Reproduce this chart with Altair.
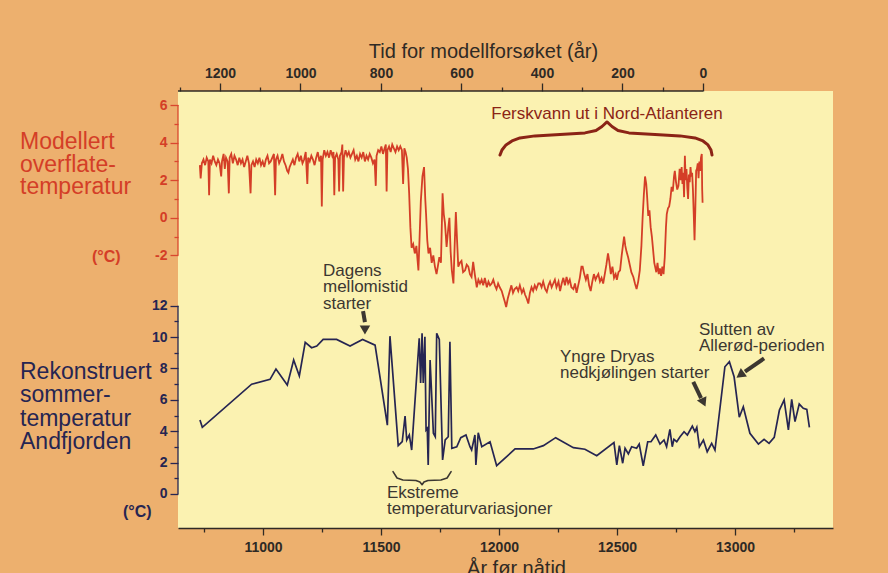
import altair as alt
import pandas as pd

# ---------------- data ----------------
# Modelled sea-surface temperature (top axis: model years, counted down to 0)
model_years = [
    1250, 1248, 1245, 1241, 1237, 1233, 1229, 1227, 1225, 1221,
    1217, 1213, 1209, 1205, 1201, 1197, 1195, 1191, 1188, 1185,
    1181, 1178, 1176, 1172, 1168, 1164, 1160, 1156, 1152, 1148,
    1144, 1140, 1136, 1132, 1128, 1124, 1122, 1118, 1114, 1110,
    1106, 1102, 1098, 1094, 1090, 1086, 1082, 1078, 1074, 1070,
    1066, 1063, 1061, 1057, 1053, 1049, 1045, 1041, 1037, 1033,
    1030, 1027, 1023, 1019, 1015, 1011, 1007, 1003, 999, 995,
    991, 987, 983, 981, 977, 973, 969, 965, 961, 957,
    953, 949, 947, 945, 941, 937, 933, 929, 925, 921,
    918, 916, 914, 910, 906, 904, 902, 898, 896, 894,
    892, 888, 884, 880, 876, 872, 868, 864, 860, 856,
    852, 848, 844, 840, 836, 832, 828, 824, 820, 816,
    813, 811, 807, 803, 799, 795, 791, 788, 786, 784,
    780, 776, 772, 768, 764, 760, 756, 752, 748, 745,
    742, 739, 736, 733, 730, 727, 724, 720, 716, 712,
    709, 707, 704, 701, 697, 693, 690, 688, 685, 682,
    678, 674, 670, 666, 662, 658, 655, 651, 647, 644,
    641, 637, 633, 630, 627, 624, 620, 617, 614, 611,
    608, 604, 600, 596, 591, 587, 583, 579, 575, 571,
    567, 562, 558, 554, 550, 546, 542, 537, 533, 529,
    525, 521, 517, 513, 509, 505, 500, 496, 492, 489,
    485, 480, 476, 472, 468, 463, 459, 455, 450, 446,
    442, 438, 434, 430, 426, 422, 418, 414, 409, 405,
    401, 397, 392, 388, 384, 380, 376, 372, 368, 364,
    359, 355, 351, 347, 343, 339, 335, 331, 327, 322,
    318, 314, 310, 306, 302, 299, 295, 291, 287, 283,
    279, 275, 271, 267, 264, 260, 256, 252, 248, 244,
    240, 236, 233, 229, 225, 221, 217, 214, 210, 206,
    202, 199, 196, 193, 190, 186, 182, 178, 173, 169,
    165, 161, 157, 153, 150, 147, 144, 141, 139, 136,
    133, 130, 127, 124, 121, 119, 116, 113, 110, 107,
    104, 101, 98, 95, 92, 90, 87, 84, 81, 78,
    75, 72, 70, 67, 64, 61, 58, 55, 53, 51,
    49, 47, 45, 43, 41, 39, 37, 35, 33, 31,
    29, 27, 25, 23, 21, 19, 17, 15, 13, 11,
    9, 7, 5, 3, 2, 1,
]
model_temp = [
    2.8, 2.1, 2.9, 3.1, 2.8, 3.2, 3.0, 1.2, 3.1, 2.9,
    3.3, 3.0, 2.8, 3.1, 2.9, 2.2, 3.0, 3.4, 2.6, 3.2,
    3.0, 1.3, 3.2, 3.4, 2.9, 3.3, 3.1, 2.8, 3.2, 2.9,
    3.1, 2.7, 3.0, 3.3, 2.9, 1.3, 2.8, 3.0, 2.7, 3.1,
    2.9, 3.2, 2.8, 3.0, 2.7, 3.1, 3.3, 2.9, 3.0, 3.2,
    3.4, 1.2, 3.1, 3.3, 2.9, 3.1, 3.4, 3.0, 2.8, 2.5,
    2.4, 2.7, 2.9, 3.1, 2.8, 3.2, 3.4, 3.0, 3.3, 2.9,
    3.1, 3.5, 1.8, 3.2, 3.0, 3.3, 3.1, 2.8, 3.2, 3.5,
    3.0, 3.3, 0.6, 3.1, 3.6, 3.3, 3.5, 3.2, 3.6, 3.3,
    3.5, 1.2, 3.2, 3.4, 3.1, 1.4, 3.3, 3.5, 3.9, 1.4,
    3.2, 3.6, 3.3, 3.5, 3.2, 3.4, 3.6, 3.1, 3.3, 3.0,
    3.4, 3.2, 3.5, 3.0, 3.3, 3.1, 3.4, 3.2, 2.9, 3.1,
    1.7, 3.3, 3.6, 3.5, 3.8, 3.4, 3.7, 3.9, 1.4, 3.6,
    3.8, 3.5, 3.9, 3.7, 3.5, 3.8, 3.6, 3.8, 3.6, 1.8,
    3.7, 3.5, 3.2, 2.6, 1.3, -0.5, -1.6, -1.4, -1.9, -1.5,
    -2.3, -2.8, -1.0, 0.9, 2.2, 2.7, 1.0, 0.2, -1.2, -1.9,
    -1.6, -2.4, -2.0, -2.6, -3.0, -2.5, -2.1, -2.4, 1.3, 0.2,
    -0.3, -1.55, -0.6, 0.0, -1.8, -2.8, -3.5, -1.5, 0.3, -1.2,
    -2.6, -2.4, -2.3, -2.9, -2.8, -2.5, -2.6, -3.0, -3.15, -2.35,
    -3.0, -3.7, -3.3, -3.5, -3.3, -3.6, -3.2, -3.7, -3.4, -3.6,
    -3.5, -3.3, -3.6, -3.8, -3.5, -3.7, -3.9, -4.2, -4.5, -4.75,
    -4.3, -3.9, -3.6, -4.0, -3.8, -3.7, -3.9, -3.6, -4.0, -3.8,
    -4.1, -4.3, -4.57, -4.0, -3.7, -3.9, -3.6, -3.8, -3.5, -3.5,
    -3.7, -3.4, -3.8, -3.95, -3.6, -3.4, -3.7, -3.5, -3.3, -3.7,
    -3.4, -3.9, -3.5, -3.2, -3.6, -3.15, -3.5, -3.3, -3.7, -3.8,
    -3.5, -4.0, -3.6, -3.2, -2.6, -2.6, -3.0, -3.3, -3.0, -3.6,
    -3.9, -3.4, -3.0, -3.3, -3.15, -3.0, -3.4, -3.2, -3.5, -3.0,
    -2.5, -1.9, -2.3, -3.0, -2.6, -3.2, -3.0, -3.3, -2.9, -2.8,
    -2.0, -1.5, -1.0, -1.5, -1.8, -2.1, -2.5, -2.9, -3.15, -3.5,
    -3.8, -3.4, -2.8, -1.5, 0.0, 1.2, 2.2, 1.8, 1.2, 0.1,
    0.4, -0.5, -1.0, -1.7, -2.4, -2.6, -2.9, -2.4, -3.0, -2.7,
    -3.1, -2.6, -3.0, -2.1, -0.5, 0.2, 0.5, 0.6, 1.0, 1.65,
    1.4, 2.2, 2.5, 1.9, 1.5, 1.7, 2.6, 2.0, 2.7, 1.8,
    2.4, 1.1, 3.3, 2.0, 2.6, 1.6, 1.0, 2.3, 1.9, 2.7,
    2.2, 2.4, 1.5, 0.2, -1.2, 0.5, 2.5, 2.6, 2.9, 2.1,
    3.0, 2.5, 3.2, 3.4, 1.5, 0.8,
]

# Reconstructed summer temperature, Andfjorden (bottom axis: years before present)
bp_years = [
    10733, 10743, 10952, 11030, 11055, 11103, 11130, 11154, 11179, 11206,
    11228, 11255, 11312, 11369, 11422, 11475, 11527, 11538, 11573, 11590,
    11602, 11609, 11620, 11630, 11662, 11668, 11674, 11679, 11686, 11691,
    11696, 11700, 11708, 11722, 11730, 11736, 11747, 11761, 11772, 11785,
    11792, 11800, 11821, 11838, 11860, 11877, 11884, 11898, 11902, 11912,
    11927, 11962, 11990, 12068, 12145, 12188, 12240, 12315, 12364, 12414,
    12487, 12499, 12510, 12524, 12534, 12548, 12562, 12583, 12594, 12611,
    12630, 12644, 12664, 12682, 12699, 12710, 12724, 12734, 12741, 12753,
    12767, 12784, 12798, 12819, 12830, 12838, 12849, 12866, 12882, 12901,
    12915, 12957, 12976, 12996, 13018, 13035, 13063, 13099, 13123, 13144,
    13166, 13188, 13208, 13226, 13240, 13254, 13272, 13289, 13304, 13315,
]
recon_temp = [
    4.71, 4.25, 7.0, 7.31, 7.96, 6.94, 8.54, 7.52, 9.66, 9.32,
    9.43, 9.85, 9.85, 9.43, 9.85, 9.49, 4.39, 10.06, 3.08, 3.33,
    4.97, 3.44, 3.76, 2.80, 9.92, 7.07, 10.25, 7.07, 10.02, 4.08,
    4.18, 1.85, 8.54, 3.87, 3.65, 10.24, 9.85, 2.17, 3.44, 3.65,
    9.70, 2.91, 3.01, 3.59, 3.76, 3.01, 2.80, 3.76, 1.85, 3.90,
    3.01, 3.33, 1.80, 2.87, 2.87, 3.08, 3.59, 2.95, 2.85, 2.44,
    3.27, 1.85, 3.08, 1.96, 2.91, 2.55, 3.01, 2.91, 3.18, 1.80,
    3.33, 3.33, 3.76, 3.18, 3.44, 3.01, 4.12, 3.01, 3.48, 3.33,
    3.65, 3.97, 3.76, 4.33, 3.97, 4.25, 3.01, 3.44, 2.69, 3.23,
    2.80, 8.11, 8.43, 7.47, 4.89, 5.56, 3.87, 3.18, 3.48, 3.23,
    3.61, 5.35, 5.99, 4.08, 6.03, 4.61, 5.73, 5.46, 5.39, 4.25,
]

# axis ticks
top_ticks = list(range(0, 1301, 100))
bottom_ticks = list(range(10750, 13251, 250))
red_ticks = list(range(-2, 7))
navy_ticks = list(range(0, 13))

# annotation shapes (in data coordinates)
brace_top_years = [504.3, 499.4, 489.4, 474.5, 454.7, 417.4, 355.3, 293.2, 265.8, 250.9, 238.5,
                   226.1, 211.2, 183.9, 119.3, 57.1, 19.9, 0.0, -12.4, -19.9, -22.4]
brace_top_level = [3.34, 3.61, 3.88, 4.09, 4.25, 4.36, 4.44, 4.52, 4.65, 4.86, 5.10,
                   4.86, 4.65, 4.52, 4.44, 4.36, 4.25, 4.09, 3.88, 3.61, 3.34]
brace_bot_years = [11551, 11568, 11593, 11648, 11665, 11674, 11682, 11699, 11754, 11780, 11797]
brace_bot_level = [1.42, 1.02, 0.89, 0.86, 0.76, 0.59, 0.76, 0.86, 0.89, 1.02, 1.42]
arrow_group = ["a", "a", "b", "b", "c", "c"]
arrow_years = [11424, 11432, 12823, 12856, 13123, 13042]
arrow_level = [11.66, 10.95, 7.15, 6.11, 8.64, 7.80]
head_years = [11432, 12864, 13027]
head_level = [10.55, 5.92, 7.64]
head_angle = [180, 155, 234]

# texts
red_title = ["Modellert", "overflate-", "temperatur"]
navy_title = ["Rekonstruert", "sommer-", "temperatur", "Andfjorden"]
unit_text = "(°C)"
fresh_text = "Ferskvann ut i Nord-Atlanteren"
dagens_text = ["Dagens", "mellomistid", "starter"]
ekstreme_text = ["Ekstreme", "temperaturvariasjoner"]
yngre_text = ["Yngre Dryas", "nedkjølingen starter"]
slutten_text = ["Slutten av", "Allerød-perioden"]

# ---------------- styling ----------------
BG = "#EDB06E"
PLOT_BG = "#FBF2B1"
RED = "#D43E27"
RED_AXIS = "#D9472F"
NAVY = "#262552"
DARK = "#2F2A25"
ANNOT = "#3C3731"
BRACE = "#8B2416"
FONT = "Liberation Sans"


def x_top():
    return alt.Scale(domain=[-323, 1304.3], reverse=True, nice=False, zero=False)


def y_top():
    return alt.Scale(domain=[-16.52, 6.75], nice=False, zero=False)


def x_bot():
    return alt.Scale(domain=[10640, 13415], nice=False, zero=False)


def y_bot():
    return alt.Scale(domain=[-2.17, 25.69], nice=False, zero=False)


def tick_size(test, minor, major):
    return {"condition": {"test": test, "value": minor}, "value": major}


top_axis = alt.Axis(
    orient="top", values=top_ticks,
    labelExpr="datum.value % 200 === 0 ? '' + datum.value : ''",
    tickSize=tick_size("datum.value % 200 !== 0", 4, 8),
    tickColor=DARK, tickWidth=1.3, domain=False, grid=False,
    labelFont=FONT, labelFontSize=14, labelFontWeight="bold", labelColor=DARK, labelPadding=3,
    title="Tid for modellforsøket (år)", titleFont=FONT, titleFontSize=20,
    titleFontWeight="normal", titleColor=DARK, titleX=305, titleY=-34,
    titleAlign="center", titleBaseline="alphabetic", titleAngle=0,
)
bot_axis = alt.Axis(
    orient="bottom", values=bottom_ticks,
    labelExpr="datum.value % 500 === 0 ? '' + datum.value : ''",
    tickSize=tick_size("datum.value % 500 !== 0", 4, 7),
    tickColor=DARK, tickWidth=1.3, domain=True, domainColor=DARK, domainWidth=1.6, grid=False,
    labelFont=FONT, labelFontSize=14, labelFontWeight="bold", labelColor=DARK, labelPadding=5,
    title="År før nåtid", titleFont=FONT, titleFontSize=20, titleFontWeight="normal",
    titleColor=DARK, titleX=338, titleY=46, titleAlign="center", titleBaseline="alphabetic",
)
red_y_axis = alt.Axis(
    orient="left", values=red_ticks,
    labelExpr="datum.value % 2 === 0 ? '' + datum.value : ''",
    tickSize=tick_size("datum.value % 2 !== 0", 4, 8),
    tickColor=RED_AXIS, tickWidth=1.3, domain=False, grid=False,
    labelFont=FONT, labelFontSize=14, labelFontWeight="bold", labelColor=RED, labelPadding=3,
    title=None,
)
navy_y_axis = alt.Axis(
    orient="left", values=navy_ticks,
    labelExpr="datum.value % 2 === 0 ? '' + datum.value : ''",
    tickSize=tick_size("datum.value % 2 !== 0", 4, 8),
    tickColor=NAVY, tickWidth=1.3, domain=False, grid=False,
    labelFont=FONT, labelFontSize=14, labelFontWeight="bold", labelColor=NAVY, labelPadding=3,
    title=None,
)

red_df = pd.DataFrame({"t": model_years, "T": model_temp})
navy_df = pd.DataFrame({"bp": bp_years, "T": recon_temp})

# ---------------- model (top) marks ----------------
red_line = alt.Chart(red_df).mark_line(color=RED, strokeWidth=1.8).encode(
    x=alt.X("t:Q", scale=x_top(), axis=top_axis),
    y=alt.Y("T:Q", scale=y_top(), axis=red_y_axis),
)
red_domain = alt.Chart(pd.DataFrame({"lo": [red_ticks[0]], "hi": [red_ticks[-1]]})).mark_rule(
    color=RED_AXIS, strokeWidth=1.3
).encode(x=alt.value(0), y=alt.Y("lo:Q", scale=y_top(), axis=None), y2="hi:Q")
top_domain = alt.Chart(pd.DataFrame({"a": [1304.3], "b": [top_ticks[0]]})).mark_rule(
    color=DARK, strokeWidth=1.6
).encode(x=alt.X("a:Q", scale=x_top(), axis=None), x2="b:Q", y=alt.value(0))
brace_top = alt.Chart(pd.DataFrame({"t": brace_top_years, "T": brace_top_level})).mark_line(
    color=BRACE, strokeWidth=3, strokeCap="round", strokeJoin="round"
).encode(x=alt.X("t:Q", scale=x_top(), axis=None), y=alt.Y("T:Q", scale=y_top(), axis=None))

# ---------------- reconstruction (bottom) marks ----------------
navy_line = alt.Chart(navy_df).mark_line(color=NAVY, strokeWidth=1.7).encode(
    x=alt.X("bp:Q", scale=x_bot(), axis=bot_axis),
    y=alt.Y("T:Q", scale=y_bot(), axis=navy_y_axis),
)
navy_domain = alt.Chart(pd.DataFrame({"lo": [navy_ticks[0]], "hi": [navy_ticks[-1]]})).mark_rule(
    color=NAVY, strokeWidth=1.3
).encode(x=alt.value(0), y=alt.Y("lo:Q", scale=y_bot(), axis=None), y2="hi:Q")
brace_bot = alt.Chart(pd.DataFrame({"bp": brace_bot_years, "T": brace_bot_level})).mark_line(
    color=ANNOT, strokeWidth=1.6, strokeCap="round", strokeJoin="round"
).encode(x=alt.X("bp:Q", scale=x_bot(), axis=None), y=alt.Y("T:Q", scale=y_bot(), axis=None))
arrow_shafts = alt.Chart(pd.DataFrame({"g": arrow_group, "bp": arrow_years, "T": arrow_level})).mark_line(
    color=ANNOT, strokeWidth=4
).encode(x=alt.X("bp:Q", scale=x_bot(), axis=None), y=alt.Y("T:Q", scale=y_bot(), axis=None), detail="g:N")
arrow_heads = alt.Chart(pd.DataFrame({"bp": head_years, "T": head_level, "ang": head_angle})).mark_point(
    shape="triangle", filled=True, size=110, color=ANNOT, opacity=1
).encode(
    x=alt.X("bp:Q", scale=x_bot(), axis=None),
    y=alt.Y("T:Q", scale=y_bot(), axis=None),
    angle=alt.Angle("ang:Q", scale=None),
)


# ---------------- texts ----------------
def label(lines, px, py, size, color, weight="normal", lh=None, align="left"):
    df = pd.DataFrame({"txt": ["\n".join(lines) if isinstance(lines, list) else lines]})
    return alt.Chart(df).mark_text(
        align=align, baseline="alphabetic", font=FONT, fontSize=size, color=color,
        fontWeight=weight, lineBreak="\n", lineHeight=lh or size,
    ).encode(text="txt:N", x=alt.value(px), y=alt.value(py))


texts = [
    label(red_title, -158, 58, 23, RED, lh=22.5),
    label(unit_text, -86, 171, 16, RED, weight="bold"),
    label(navy_title, -158, 288, 23, NAVY, lh=23.4),
    label(unit_text, -55, 426, 16, NAVY, weight="bold"),
    label(fresh_text, 429, 28, 17, BRACE, align="center"),
    label(dagens_text, 145, 185, 17, ANNOT, lh=16.3),
    label(ekstreme_text, 209, 407, 17, ANNOT, lh=16),
    label(yngre_text, 382, 271, 17, ANNOT, lh=16.3),
    label(slutten_text, 521, 244, 17, ANNOT, lh=15.5),
]

chart = alt.layer(
    red_line, navy_line, red_domain, top_domain, brace_top,
    navy_domain, brace_bot, arrow_shafts, arrow_heads, *texts
).resolve_scale(
    x="independent", y="independent"
).properties(
    width=655, height=437, background=BG,
    padding={"left": 178, "top": 91, "right": 55, "bottom": 45},
    autosize=alt.AutoSizeParams(type="none"),
).configure_view(fill=PLOT_BG, stroke=None)

chart.save("out.html", embed_options={"renderer": "svg", "actions": False})
